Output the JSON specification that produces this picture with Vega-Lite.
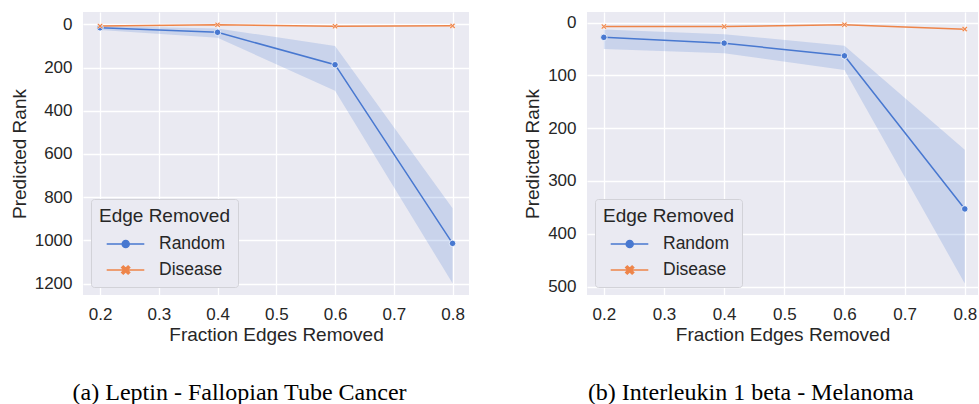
{
  "$schema": "https://vega.github.io/schema/vega-lite/v6.json",
  "background": "white",
  "padding": {"left": 10, "top": 12, "right": 0, "bottom": 0},
  "spacing": 54,
  "datasets": {
    "a": [
      {"frac": 0.2, "series": "Random", "value": 16, "lo": 8, "hi": 26},
      {"frac": 0.4, "series": "Random", "value": 37, "lo": 19, "hi": 62},
      {"frac": 0.6, "series": "Random", "value": 187, "lo": 100, "hi": 307},
      {"frac": 0.8, "series": "Random", "value": 1014, "lo": 852, "hi": 1199},
      {"frac": 0.2, "series": "Disease", "value": 8},
      {"frac": 0.4, "series": "Disease", "value": 2},
      {"frac": 0.6, "series": "Disease", "value": 9},
      {"frac": 0.8, "series": "Disease", "value": 7}
    ],
    "b": [
      {"frac": 0.2, "series": "Random", "value": 28, "lo": 13, "hi": 50},
      {"frac": 0.4, "series": "Random", "value": 39, "lo": 22, "hi": 58},
      {"frac": 0.6, "series": "Random", "value": 63, "lo": 44, "hi": 90},
      {"frac": 0.8, "series": "Random", "value": 353, "lo": 241, "hi": 494},
      {"frac": 0.2, "series": "Disease", "value": 7.5},
      {"frac": 0.4, "series": "Disease", "value": 7.5},
      {"frac": 0.6, "series": "Disease", "value": 4},
      {"frac": 0.8, "series": "Disease", "value": 12.5}
    ]
  },
  "resolve": {
    "scale": {"color": "independent", "fill": "independent", "stroke": "independent", "shape": "independent"},
    "legend": {"color": "independent", "fill": "independent", "stroke": "independent", "shape": "independent"}
  },
  "hconcat": [
    {
      "width": 386,
      "height": 283,
      "data": {"name": "a"},
      "title": {"text": "(a) Leptin - Fallopian Tube Cancer"},
      "encoding": {
        "x": {"field": "frac", "type": "quantitative", "title": "Fraction Edges Removed",
              "scale": {"domain": [0.171, 0.828], "nice": false, "zero": false},
              "axis": {"values": [0.2, 0.3, 0.4, 0.5, 0.6, 0.7, 0.8], "format": ".1f", "titlePadding": 3}},
        "y": {"field": "value", "type": "quantitative", "title": "Predicted Rank",
              "scale": {"domain": [-57, 1253], "reverse": true, "nice": false, "zero": false},
              "axis": {"values": [0, 200, 400, 600, 800, 1000, 1200], "format": "d", "titlePadding": 5}}
      },
      "layer": [
        {
          "transform": [{"filter": "datum.series === 'Random'"}],
          "mark": {"type": "area", "color": "#4878d0", "opacity": 0.2},
          "encoding": {
            "y": {"field": "lo", "type": "quantitative", "title": "Predicted Rank"},
            "y2": {"field": "hi"}
          }
        },
        {
          "transform": [{"filter": "datum.series === 'Random'"}],
          "mark": {"type": "line", "strokeWidth": 1.5, "color": "#4878d0"},
          "encoding": {}
        },
        {
          "transform": [{"filter": "datum.series === 'Disease'"}],
          "mark": {"type": "line", "strokeWidth": 1.5, "color": "#ee854a"},
          "encoding": {}
        },
        {
          "transform": [{"filter": "datum.series === 'Random'"}],
          "mark": {"type": "point", "shape": "circle", "filled": true, "fill": "#4878d0", "stroke": "white", "strokeWidth": 0.8, "size": 42, "opacity": 1}
        },
        {
          "transform": [{"filter": "datum.series === 'Disease'"}],
          "mark": {"type": "point", "shape": "M-1,-0.6L-0.6,-1L0,-0.4L0.6,-1L1,-0.6L0.4,0L1,0.6L0.6,1L0,0.4L-0.6,1L-1,0.6L-0.4,0Z", "filled": true, "fill": "#ee854a", "stroke": "white", "strokeWidth": 0.5, "size": 32, "opacity": 1}
        },
        {
          "mark": {"type": "point", "filled": true, "opacity": 0},
          "encoding": {
            "fill": {"field": "series", "type": "nominal", "title": "Edge Removed",
                     "scale": {"domain": ["Random", "Disease"], "range": ["#4878d0", "#ee854a"]}},
            "stroke": {"field": "series", "type": "nominal", "title": "Edge Removed",
                       "scale": {"domain": ["Random", "Disease"], "range": ["#4878d0", "#ee854a"]}},
            "shape": {"field": "series", "type": "nominal", "title": "Edge Removed",
                      "scale": {"domain": ["Random", "Disease"], "range": [
                        "M-0.33,0H3.43M1.22,0A0.35,0.35 0 1,0 1.92,0A0.35,0.35 0 1,0 1.22,0Z",
                        "M-0.33,0H3.43M1.17,-0.24L1.33,-0.4L1.57,-0.16L1.81,-0.4L1.97,-0.24L1.73,0L1.97,0.24L1.81,0.4L1.57,0.16L1.33,0.4L1.17,0.24L1.41,0Z"]}}
          }
        }
      ]
    },
    {
      "width": 391,
      "height": 283,
      "data": {"name": "b"},
      "title": {"text": "(b) Interleukin 1 beta - Melanoma"},
      "encoding": {
        "x": {"field": "frac", "type": "quantitative", "title": "Fraction Edges Removed",
              "scale": {"domain": [0.172, 0.822], "nice": false, "zero": false},
              "axis": {"values": [0.2, 0.3, 0.4, 0.5, 0.6, 0.7, 0.8], "format": ".1f", "titlePadding": 3}},
        "y": {"field": "value", "type": "quantitative", "title": "Predicted Rank",
              "scale": {"domain": [-20, 516], "reverse": true, "nice": false, "zero": false},
              "axis": {"values": [0, 100, 200, 300, 400, 500], "format": "d", "titlePadding": 5}}
      },
      "layer": [
        {
          "transform": [{"filter": "datum.series === 'Random'"}],
          "mark": {"type": "area", "color": "#4878d0", "opacity": 0.2},
          "encoding": {
            "y": {"field": "lo", "type": "quantitative", "title": "Predicted Rank"},
            "y2": {"field": "hi"}
          }
        },
        {
          "transform": [{"filter": "datum.series === 'Random'"}],
          "mark": {"type": "line", "strokeWidth": 1.5, "color": "#4878d0"},
          "encoding": {}
        },
        {
          "transform": [{"filter": "datum.series === 'Disease'"}],
          "mark": {"type": "line", "strokeWidth": 1.5, "color": "#ee854a"},
          "encoding": {}
        },
        {
          "transform": [{"filter": "datum.series === 'Random'"}],
          "mark": {"type": "point", "shape": "circle", "filled": true, "fill": "#4878d0", "stroke": "white", "strokeWidth": 0.8, "size": 42, "opacity": 1}
        },
        {
          "transform": [{"filter": "datum.series === 'Disease'"}],
          "mark": {"type": "point", "shape": "M-1,-0.6L-0.6,-1L0,-0.4L0.6,-1L1,-0.6L0.4,0L1,0.6L0.6,1L0,0.4L-0.6,1L-1,0.6L-0.4,0Z", "filled": true, "fill": "#ee854a", "stroke": "white", "strokeWidth": 0.5, "size": 32, "opacity": 1}
        },
        {
          "mark": {"type": "point", "filled": true, "opacity": 0},
          "encoding": {
            "fill": {"field": "series", "type": "nominal", "title": "Edge Removed",
                     "scale": {"domain": ["Random", "Disease"], "range": ["#4878d0", "#ee854a"]}},
            "stroke": {"field": "series", "type": "nominal", "title": "Edge Removed",
                       "scale": {"domain": ["Random", "Disease"], "range": ["#4878d0", "#ee854a"]}},
            "shape": {"field": "series", "type": "nominal", "title": "Edge Removed",
                      "scale": {"domain": ["Random", "Disease"], "range": [
                        "M-0.33,0H3.43M1.22,0A0.35,0.35 0 1,0 1.92,0A0.35,0.35 0 1,0 1.22,0Z",
                        "M-0.33,0H3.43M1.17,-0.24L1.33,-0.4L1.57,-0.16L1.81,-0.4L1.97,-0.24L1.73,0L1.97,0.24L1.81,0.4L1.57,0.16L1.33,0.4L1.17,0.24L1.41,0Z"]}}
          }
        }
      ]
    }
  ],
  "config": {
    "view": {"fill": "#eaeaf2", "stroke": null},
    "axis": {
      "domain": false, "ticks": false, "grid": true, "gridColor": "white", "gridWidth": 1.3, "gridOpacity": 1,
      "labelFont": "Liberation Sans", "labelFontSize": 17, "labelColor": "#262626", "labelPadding": 11,
      "titleFont": "Liberation Sans", "titleFontSize": 19, "titleFontWeight": "normal", "titleColor": "#262626"
    },
    "legend": {
      "orient": "bottom-left", "offset": 8,
      "titleFont": "Liberation Sans", "titleFontSize": 19, "titleFontWeight": "normal", "titleColor": "#262626", "titlePadding": 7,
      "labelFont": "Liberation Sans", "labelFontSize": 17.5, "labelColor": "#262626", "labelOffset": 38,
      "symbolSize": 400, "symbolStrokeWidth": 1.5, "symbolOpacity": 1, "rowPadding": 6,
      "padding": 8, "fillColor": "#eaeaf2", "strokeColor": "#d2d2d8", "cornerRadius": 3
    },
    "title": {
      "orient": "bottom", "font": "Liberation Serif", "fontSize": 24, "fontWeight": "normal", "color": "black",
      "offset": 37, "anchor": "middle", "frame": "bounds"
    }
  }
}
